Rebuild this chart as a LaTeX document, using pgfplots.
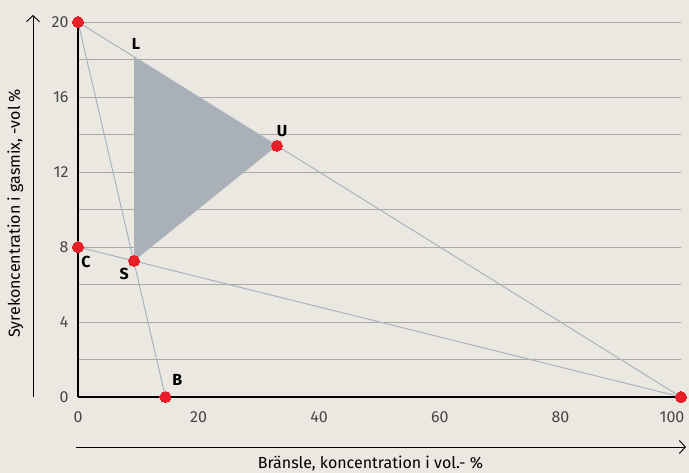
\documentclass[border=0pt]{standalone}
\usepackage{pgfplots}
\pgfplotsset{compat=1.18}
\usetikzlibrary{arrows.meta}
\usepackage{fontspec}
\setmainfont{Fira Sans}
\definecolor{bg}{RGB}{235,232,225}
\definecolor{gridc}{RGB}{170,168,162}
\definecolor{linec}{RGB}{168,180,192}
\definecolor{shadec}{RGB}{170,176,183}
\definecolor{ptred}{RGB}{232,30,40}
\definecolor{tickc}{RGB}{70,70,70}
\begin{document}
\begin{tikzpicture}
\fill[bg] (-78pt,-76pt) rectangle (611pt,397pt);
\useasboundingbox (-78pt,-76pt) rectangle (611pt,397pt);
\begin{axis}[
  at={(0pt,0pt)}, anchor=south west,
  scale only axis, width=603pt, height=375pt,
  xmin=0, xmax=100, ymin=0, ymax=20,
  clip=false,
  axis x line*=bottom, axis y line*=left,
  axis line style={black, line width=1.1pt},
  xtick={0,20,...,100}, ytick={0,4,...,20},
  xticklabels={0,20,40,60,80,\makebox[0pt]{\kern-18pt 100}},
  minor ytick={2,6,...,18},
  ymajorgrids, yminorgrids,
  major grid style={gridc, line width=0.9pt},
  minor grid style={gridc, line width=0.9pt},
  major tick length=0pt, minor tick length=0pt,
  tick label style={font=\fontsize{16}{16}\selectfont, text=tickc},
  /pgf/number format/assume math mode=true,
  xticklabel style={yshift=-11pt},
  yticklabel style={xshift=-6pt},
  xlabel={Bränsle, koncentration i vol.- \%},
  ylabel={Syrekoncentration i gasmix, -vol \%},
  label style={font=\fontsize{16}{16}\selectfont},
  xlabel style={at={(axis description cs:0.485,0)}, anchor=center, yshift=-67pt},
  ylabel style={at={(axis description cs:-0.104,0.49)}, anchor=center},
]
\addplot[fill=shadec, draw=none] coordinates {(9.3,18.14) (33,13.4) (9.3,7.26)} -- cycle;
\addplot[linec, line width=1pt] coordinates {(0,20) (100,0)};
\addplot[linec, line width=1pt] coordinates {(0,20) (14.5,0)};
\addplot[linec, line width=1pt] coordinates {(0,8) (100,0)};
\addplot[only marks, mark=*, mark size=5.5pt, mark options={fill=ptred, draw=ptred, line width=0pt}]
  coordinates {(0,20) (0,8) (9.3,7.26) (33,13.4) (14.5,0) (100,0)};
\node[font=\bfseries\fontsize{16}{16}\selectfont, xshift=2pt, yshift=13pt] at (axis cs:9.3,18.14) {L};
\node[font=\bfseries\fontsize{16}{16}\selectfont, xshift=5pt, yshift=15pt] at (axis cs:33,13.4) {U};
\node[font=\bfseries\fontsize{16}{16}\selectfont, xshift=8pt, yshift=-15pt] at (axis cs:0,8) {C};
\node[font=\bfseries\fontsize{16}{16}\selectfont, xshift=-10pt, yshift=-13pt] at (axis cs:9.3,7.26) {S};
\node[font=\bfseries\fontsize{16}{16}\selectfont, xshift=12pt, yshift=17pt] at (axis cs:14.5,0) {B};
\end{axis}
\draw[-{Straight Barb[length=6pt,width=13pt]}, line width=0.9pt] (-45pt,0pt) -- (-45pt,382pt);
\draw[-{Straight Barb[length=6pt,width=13pt]}, line width=0.9pt] (-2pt,-50pt) -- (608pt,-50pt);
\end{tikzpicture}
\end{document}
